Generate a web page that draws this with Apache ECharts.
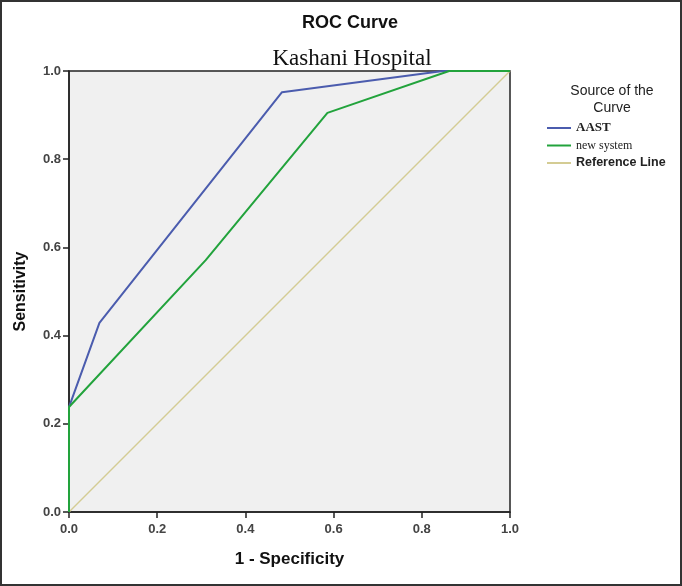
<!DOCTYPE html>
<html>
<head>
<meta charset="utf-8">
<script src="https://cdn.jsdelivr.net/npm/echarts@6/dist/echarts.min.js"></script>
<style>html,body{margin:0;padding:0;background:#fff}#c{width:682px;height:586px}</style>
</head>
<body>
<div id="c"></div>
<script>
const seriesNames = ['AAST', 'new system', 'Reference Line'];
const aastX = [0, 0, 0.069, 0.483, 0.848, 1];
const aastY = [0, 0.238, 0.429, 0.952, 1, 1];
const newX = [0, 0, 0.310, 0.586, 0.862, 1];
const newY = [0, 0.238, 0.571, 0.905, 1, 1];
const refX = [0, 1];
const refY = [0, 1];
const xTicks = ['0.0', '0.2', '0.4', '0.6', '0.8', '1.0'];
const yTicks = ['0.0', '0.2', '0.4', '0.6', '0.8', '1.0'];

const pair = (xs, ys) => xs.map((x, i) => [x, ys[i]]);
const chart = echarts.init(document.getElementById('c'));
const axisCommon = {
  type: 'value', min: 0, max: 1, interval: 0.2,
  axisLine: { show: true, lineStyle: { color: '#222', width: 1.5 } },
  axisTick: { show: true, length: 6, lineStyle: { color: '#222', width: 1.5 } },
  splitLine: { show: false },
  axisLabel: { color: '#444', fontFamily: 'Liberation Sans, Arial', fontSize: 13, fontWeight: 'bold' }
};
chart.setOption({
  backgroundColor: '#fff',
  animation: false,
  title: [
    { text: 'ROC Curve', left: 345, top: 9, textAlign: 'center',
      textStyle: { fontFamily: 'Liberation Sans, Arial', fontSize: 18, fontWeight: 'bold', color: '#111' } },
    { text: 'Kashani Hospital', left: 347, top: 42, textAlign: 'center',
      textStyle: { fontFamily: 'Liberation Serif, Times New Roman', fontSize: 23, fontWeight: 'normal', color: '#111' } },
    { text: 'Source of the\nCurve', left: 607, top: 78, textAlign: 'center',
      textStyle: { fontFamily: 'Liberation Sans, Arial', fontSize: 14, fontWeight: 'normal', color: '#222', lineHeight: 17 } }
  ],
  legend: {
    orient: 'vertical', left: 547, top: 121, padding: 0, itemWidth: 24, itemHeight: 2, itemGap: 3.5,
    icon: 'rect',
    data: seriesNames,
    formatter: function (n) {
      if (n === 'Reference Line') return '{s|' + n + '}';
      if (n === 'AAST') return '{a|' + n + '}';
      return '{b|' + n + '}';
    },
    textStyle: {
      color: '#222', lineHeight: 14,
      rich: {
        a: { fontFamily: 'Liberation Serif, Times New Roman', fontSize: 13, fontWeight: 'bold', color: '#222', lineHeight: 14 },
        b: { fontFamily: 'Liberation Serif, Times New Roman', fontSize: 12, color: '#222', lineHeight: 14 },
        s: { fontFamily: 'Liberation Sans, Arial', fontSize: 12.5, fontWeight: 'bold', color: '#222', lineHeight: 14 }
      }
    }
  },
  grid: { left: 69, right: 172, top: 71, bottom: 74, show: true, backgroundColor: '#f0f0f0', borderColor: '#222', borderWidth: 1.5 },
  xAxis: Object.assign({}, axisCommon, {
    name: '1 - Specificity', nameLocation: 'middle', nameGap: 39,
    nameTextStyle: { fontFamily: 'Liberation Sans, Arial', fontSize: 17, fontWeight: 'bold', color: '#111' },
    axisLabel: Object.assign({}, axisCommon.axisLabel, { margin: 11, formatter: (v) => xTicks[Math.round(v * 5)] })
  }),
  yAxis: Object.assign({}, axisCommon, {
    name: 'Sensitivity', nameLocation: 'middle', nameGap: 40,
    nameTextStyle: { fontFamily: 'Liberation Sans, Arial', fontSize: 16, fontWeight: 'bold', color: '#111' },
    axisLabel: Object.assign({}, axisCommon.axisLabel, { margin: 8, formatter: (v) => yTicks[Math.round(v * 5)] })
  }),
  graphic: [{ type: 'rect', shape: { x: 1, y: 1, width: 680, height: 584 }, style: { fill: 'none', stroke: '#333', lineWidth: 2 }, z: 100 }],
  series: [
    { name: 'Reference Line', type: 'line', data: pair(refX, refY), showSymbol: false, lineStyle: { color: '#d4cc94', width: 1.5 }, itemStyle: { color: '#d4cc94' }, z: 1 },
    { name: 'AAST', type: 'line', data: pair(aastX, aastY), showSymbol: false, lineStyle: { color: '#4b5cae', width: 2 }, itemStyle: { color: '#4b5cae' }, z: 2 },
    { name: 'new system', type: 'line', data: pair(newX, newY), showSymbol: false, lineStyle: { color: '#22a33c', width: 2 }, itemStyle: { color: '#22a33c' }, z: 3 }
  ]
});
</script>
</body>
</html>
